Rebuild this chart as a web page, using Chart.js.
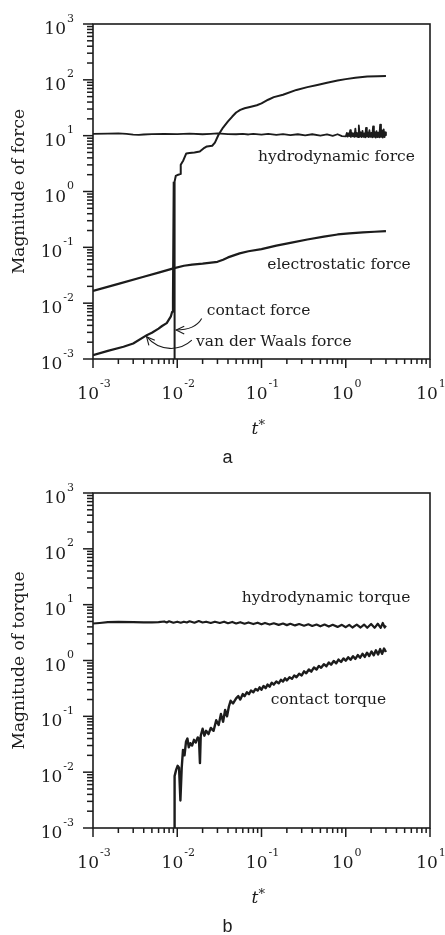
<!DOCTYPE html>
<html>
<head>
<meta charset="utf-8">
<script src="https://cdn.jsdelivr.net/npm/chart.js@4.4.1/dist/chart.umd.min.js"></script>
<style>
  html, body { margin: 0; padding: 0; background: #fff; }
  body { width: 445px; height: 935px; overflow: hidden; }
  canvas { display: block; }
</style>
</head>
<body>
<canvas id="chartForce" width="445" height="469"></canvas>
<canvas id="chartTorque" width="445" height="466"></canvas>
<script>
// axes: log-log, decades from 1e-3 to 1e1 (t*) and 1e-3 to 1e3 (magnitude)
const xTickExponents = [-3, -2, -1, 0, 1];
const yTickExponents = [-3, -2, -1, 0, 1, 2, 3];
const minorSteps = [2, 3, 4, 5, 6, 7, 8, 9];

// ---- panel a : forces, [t*, magnitude]
const hydroForce = [
  [0.001, 10.8], [0.0015, 10.9], [0.002, 11.0], [0.0025, 10.8], [0.003, 10.4], [0.0035, 10.3],
  [0.004, 10.5], [0.005, 10.7], [0.007, 10.8], [0.01, 10.7], [0.014, 10.9], [0.02, 10.6],
  [0.025, 10.8], [0.03, 11.0], [0.04, 10.7], [0.05, 10.6], [0.06, 10.8], [0.07, 10.5],
  [0.08, 10.8], [0.1, 10.4], [0.12, 10.8], [0.15, 10.3], [0.18, 10.7], [0.22, 10.2],
  [0.27, 10.6], [0.33, 10.1], [0.4, 10.6], [0.5, 10.0], [0.6, 10.5], [0.7, 9.9],
  [0.8, 10.6], [0.9, 9.8], [1.0, 9.7], [1.03, 11.2], [1.05, 9.6], [1.08, 11.0], [1.1, 9.8],
  [1.13, 12.6], [1.15, 9.5], [1.18, 11.3], [1.21, 9.7], [1.24, 11.0], [1.27, 9.5], [1.3, 13.4],
  [1.33, 9.6], [1.36, 11.2], [1.4, 9.4], [1.43, 15.2], [1.47, 9.6], [1.5, 11.5], [1.54, 9.4],
  [1.58, 12.2], [1.62, 9.5], [1.66, 11.0], [1.7, 9.3], [1.74, 13.8], [1.78, 9.6], [1.82, 11.4],
  [1.87, 9.4], [1.91, 12.5], [1.96, 9.5], [2.01, 11.2], [2.06, 9.3], [2.11, 14.6], [2.16, 9.5],
  [2.21, 11.6], [2.27, 9.2], [2.32, 12.0], [2.38, 9.4], [2.44, 11.3], [2.5, 9.3], [2.56, 15.8],
  [2.62, 9.5], [2.69, 12.4], [2.75, 9.2], [2.82, 13.0], [2.89, 9.4], [2.95, 11.5], [3.0, 10.2]
];
const electroForce = [
  [0.001, 0.0166], [0.002, 0.0222], [0.004, 0.0297], [0.006, 0.0353], [0.009, 0.0419],
  [0.012, 0.0468], [0.015, 0.049], [0.02, 0.051], [0.03, 0.055], [0.035, 0.06], [0.04, 0.066],
  [0.055, 0.078], [0.07, 0.085], [0.1, 0.093], [0.15, 0.107], [0.22, 0.12],
  [0.35, 0.138], [0.55, 0.155], [0.8, 0.17], [1.1, 0.178], [1.6, 0.186], [2.2, 0.19], [3.0, 0.195]
];
const vdwForce = [
  [0.001, 0.00117], [0.0015, 0.0014], [0.0023, 0.00166], [0.003, 0.0019], [0.0044, 0.0027],
  [0.005, 0.00295], [0.006, 0.0035], [0.0066, 0.0039], [0.0075, 0.0044], [0.0084, 0.0058],
  [0.0087, 0.007], [0.0089, 0.012], [0.0091, 1.5]
];
const contactForce = [
  [0.0093, 0.0001], [0.0093, 1.5], [0.0096, 1.9], [0.0103, 2.0], [0.0108, 2.05], [0.011, 3.0],
  [0.0118, 3.6], [0.0128, 4.8], [0.014, 4.9], [0.016, 5.0], [0.0185, 5.2], [0.0205, 5.9],
  [0.0225, 6.4], [0.026, 6.6], [0.028, 7.5], [0.031, 10.5], [0.035, 14], [0.04, 18],
  [0.045, 22], [0.05, 26], [0.056, 29], [0.063, 31], [0.075, 33], [0.088, 35], [0.1, 38],
  [0.12, 44], [0.14, 49], [0.18, 54], [0.26, 66], [0.35, 74], [0.46, 81], [0.6, 89],
  [0.8, 97], [1.0, 103], [1.3, 109], [1.8, 115], [2.4, 116], [3.0, 117]
];

// ---- panel b : torques
const hydroTorque = [
  [0.001, 4.6], [0.0012, 4.7], [0.0015, 4.85], [0.002, 4.9], [0.003, 4.85], [0.004, 4.8],
  [0.005, 4.8], [0.006, 4.85], [0.007, 5.0], [0.0075, 4.8], [0.008, 5.05], [0.009, 4.75],
  [0.01, 4.95], [0.011, 4.75], [0.012, 4.95], [0.013, 4.8], [0.014, 5.05], [0.016, 4.75],
  [0.018, 5.1], [0.02, 4.8], [0.022, 4.95], [0.025, 4.7], [0.028, 4.95], [0.032, 4.7],
  [0.036, 4.95], [0.04, 4.65], [0.045, 4.9], [0.05, 4.6], [0.056, 4.85], [0.063, 4.55],
  [0.07, 4.8], [0.08, 4.5], [0.09, 4.75], [0.1, 4.45], [0.11, 4.7], [0.125, 4.4],
  [0.14, 4.65], [0.16, 4.35], [0.18, 4.6], [0.2, 4.3], [0.22, 4.55], [0.25, 4.25],
  [0.28, 4.5], [0.32, 4.2], [0.36, 4.45], [0.4, 4.15], [0.45, 4.4], [0.5, 4.1],
  [0.56, 4.4], [0.63, 4.05], [0.7, 4.35], [0.8, 4.0], [0.9, 4.35], [1.0, 3.95],
  [1.1, 4.35], [1.2, 3.9], [1.35, 4.4], [1.5, 3.9], [1.65, 4.4], [1.8, 3.85],
  [2.0, 4.5], [2.2, 3.85], [2.4, 4.55], [2.6, 3.85], [2.75, 4.7], [2.9, 3.9], [3.0, 4.2]
];
const contactTorque = [
  [0.0093, 0.0001], [0.0093, 0.0085], [0.0097, 0.011], [0.0101, 0.013], [0.0105, 0.012],
  [0.0109, 0.0031], [0.0113, 0.012], [0.0117, 0.025], [0.0122, 0.02], [0.0127, 0.035],
  [0.0132, 0.04], [0.0137, 0.028], [0.0143, 0.033], [0.015, 0.03], [0.0158, 0.038],
  [0.0166, 0.034], [0.0175, 0.042], [0.0181, 0.04], [0.0186, 0.0145], [0.019, 0.045],
  [0.02, 0.06], [0.021, 0.045], [0.022, 0.055], [0.0235, 0.048], [0.025, 0.062],
  [0.027, 0.055], [0.029, 0.085], [0.031, 0.07], [0.033, 0.11], [0.035, 0.08],
  [0.037, 0.13], [0.039, 0.1], [0.041, 0.15], [0.043, 0.19], [0.046, 0.17],
  [0.05, 0.21], [0.053, 0.23], [0.056, 0.2], [0.06, 0.25], [0.063, 0.23], [0.067, 0.27],
  [0.071, 0.25], [0.075, 0.29], [0.08, 0.27], [0.085, 0.31], [0.09, 0.29], [0.095, 0.33],
  [0.1, 0.3], [0.106, 0.35], [0.112, 0.32], [0.118, 0.37], [0.125, 0.34], [0.132, 0.4],
  [0.14, 0.37], [0.15, 0.42], [0.16, 0.39], [0.17, 0.45], [0.18, 0.42], [0.19, 0.48],
  [0.2, 0.44], [0.215, 0.5], [0.23, 0.47], [0.245, 0.54], [0.26, 0.5], [0.28, 0.58],
  [0.3, 0.54], [0.32, 0.64], [0.34, 0.59], [0.365, 0.69], [0.39, 0.63], [0.42, 0.75],
  [0.45, 0.69], [0.48, 0.8], [0.51, 0.74], [0.55, 0.86], [0.59, 0.79], [0.63, 0.92],
  [0.67, 0.84], [0.72, 0.98], [0.77, 0.89], [0.82, 1.04], [0.88, 0.94], [0.94, 1.09],
  [1.0, 0.99], [1.07, 1.14], [1.14, 1.03], [1.22, 1.19], [1.3, 1.07], [1.39, 1.25],
  [1.48, 1.12], [1.58, 1.32], [1.68, 1.16], [1.79, 1.38], [1.9, 1.2], [2.02, 1.45],
  [2.15, 1.24], [2.28, 1.52], [2.42, 1.28], [2.56, 1.6], [2.7, 1.32], [2.85, 1.64], [3.0, 1.42]
];

// text labels placed at data coordinates [t*, magnitude] (left edge, vertical middle)
const forceLabels = [
  { text: 'hydrodynamic force', at: [0.091, 4.1] },
  { text: 'electrostatic force', at: [0.117, 0.048] },
  { text: 'contact force', at: [0.0224, 0.0073] },
  { text: 'van der Waals force', at: [0.0167, 0.00202] }
];
const torqueLabels = [
  { text: 'hydrodynamic torque', at: [0.0583, 13.3] },
  { text: 'contact torque', at: [0.129, 0.195] }
];
// leader arrows (cubic curves in data coordinates, arrow head at the last point)
const forceArrows = [
  [[0.0195, 0.0053], [0.0172, 0.0038], [0.0140, 0.0033], [0.0097, 0.0033]],
  [[0.0149, 0.00217], [0.0108, 0.00138], [0.00625, 0.00132], [0.00432, 0.00251]]
];

const SERIF = '"DejaVu Serif", serif';
const INK = '#1c1c1c';

function toXY(pairs) { return pairs.map(([x, y]) => ({ x, y })); }

function drawPower(ctx, exp, x, baseline, align) {
  ctx.font = '17px ' + SERIF;
  const wb = ctx.measureText('10').width;
  ctx.font = '11px ' + SERIF;
  const sup = String(exp);
  const ws = ctx.measureText(sup).width;
  const total = wb + ws + 1;
  const left = align === 'right' ? x - total : x - total / 2;
  ctx.textAlign = 'left';
  ctx.textBaseline = 'alphabetic';
  ctx.font = '17px ' + SERIF;
  ctx.fillText('10', left, baseline);
  ctx.font = '11px ' + SERIF;
  ctx.fillText(sup, left + wb + 1, baseline - 12.5);
}

function makeDecor(yTitle, caption, labels, arrows) {
  return {
    id: 'decor',
    afterDraw(chart) {
      const { ctx, chartArea: a, scales: { x, y } } = chart;
      ctx.save();
      ctx.strokeStyle = INK;
      ctx.fillStyle = INK;
      ctx.lineCap = 'butt';

      // frame
      ctx.lineWidth = 1.6;
      ctx.strokeRect(a.left, a.top, a.right - a.left, a.bottom - a.top);

      // x ticks, outside (down)
      ctx.lineWidth = 1.5;
      xTickExponents.forEach((e, i) => {
        const v = Math.pow(10, e);
        const px = x.getPixelForValue(v);
        ctx.beginPath(); ctx.moveTo(px, a.bottom); ctx.lineTo(px, a.bottom + 9); ctx.stroke();
        drawPower(ctx, e, px + 1, a.bottom + 40, 'center');
        if (i < xTickExponents.length - 1) {
          minorSteps.forEach(m => {
            const mx = x.getPixelForValue(m * v);
            ctx.beginPath(); ctx.moveTo(mx, a.bottom); ctx.lineTo(mx, a.bottom + 5); ctx.stroke();
          });
        }
      });

      // y ticks, outside (left)
      yTickExponents.forEach((e, i) => {
        const v = Math.pow(10, e);
        const py = y.getPixelForValue(v);
        ctx.beginPath(); ctx.moveTo(a.left, py); ctx.lineTo(a.left - 10, py); ctx.stroke();
        drawPower(ctx, e, a.left - 19, py + 10, 'right');
        if (i < yTickExponents.length - 1) {
          minorSteps.forEach(m => {
            const my = y.getPixelForValue(m * v);
            ctx.beginPath(); ctx.moveTo(a.left, my); ctx.lineTo(a.left - 6, my); ctx.stroke();
          });
        }
      });

      // y title
      ctx.save();
      ctx.translate(20, (a.top + a.bottom) / 2);
      ctx.rotate(-Math.PI / 2);
      ctx.font = '17px ' + SERIF;
      ctx.textAlign = 'center';
      ctx.textBaseline = 'middle';
      ctx.fillText(yTitle, 0, 0);
      ctx.restore();

      // x title t*
      const cx = (a.left + a.right) / 2 - 3;
      ctx.font = 'italic 17px ' + SERIF;
      const wt = ctx.measureText('t').width;
      ctx.textAlign = 'left';
      ctx.textBaseline = 'alphabetic';
      ctx.fillText('t', cx - (wt + 7) / 2, a.bottom + 75);
      ctx.font = '13px ' + SERIF;
      ctx.fillText('*', cx - (wt + 7) / 2 + wt, a.bottom + 70);

      // panel caption
      ctx.font = '18px "Liberation Sans", Arial, sans-serif';
      ctx.textAlign = 'center';
      ctx.fillText(caption, chart.width / 2 + 5, a.bottom + 104);

      // in-plot labels
      ctx.font = '15.5px ' + SERIF;
      ctx.textAlign = 'left';
      ctx.textBaseline = 'middle';
      labels.forEach(l => {
        ctx.fillText(l.text, x.getPixelForValue(l.at[0]), y.getPixelForValue(l.at[1]));
      });

      // leader arrows
      ctx.lineWidth = 1.1;
      arrows.forEach(pts => {
        const p = pts.map(([t, v]) => [x.getPixelForValue(t), y.getPixelForValue(v)]);
        ctx.beginPath();
        ctx.moveTo(p[0][0], p[0][1]);
        ctx.bezierCurveTo(p[1][0], p[1][1], p[2][0], p[2][1], p[3][0], p[3][1]);
        ctx.stroke();
        const ang = Math.atan2(p[3][1] - p[2][1], p[3][0] - p[2][0]);
        const len = 9;
        ctx.beginPath();
        ctx.moveTo(p[3][0] - len * Math.cos(ang - 0.45), p[3][1] - len * Math.sin(ang - 0.45));
        ctx.lineTo(p[3][0], p[3][1]);
        ctx.lineTo(p[3][0] - len * Math.cos(ang + 0.45), p[3][1] - len * Math.sin(ang + 0.45));
        ctx.stroke();
      });

      ctx.restore();
    }
  };
}

function makeChart(canvasId, datasets, yTitle, caption, labels, arrows, bottomPad) {
  return new Chart(document.getElementById(canvasId), {
    type: 'scatter',
    data: {
      datasets: datasets.map(d => ({
        data: toXY(d.data),
        showLine: true,
        borderColor: INK,
        borderWidth: d.width,
        borderJoinStyle: 'round',
        pointRadius: 0,
        tension: 0
      }))
    },
    options: {
      responsive: false,
      animation: false,
      devicePixelRatio: 1,
      layout: { padding: { left: 93, right: 15, top: 24, bottom: bottomPad } },
      plugins: { legend: { display: false }, tooltip: { enabled: false } },
      scales: {
        x: { type: 'logarithmic', min: 1e-3, max: 10, display: false },
        y: { type: 'logarithmic', min: 1e-3, max: 1e3, display: false }
      }
    },
    plugins: [makeDecor(yTitle, caption, labels, arrows)]
  });
}

makeChart('chartForce', [
  { data: hydroForce, width: 1.8 },
  { data: electroForce, width: 2.2 },
  { data: vdwForce, width: 2.2 },
  { data: contactForce, width: 2 }
], 'Magnitude of force', 'a', forceLabels, forceArrows, 110);

makeChart('chartTorque', [
  { data: hydroTorque, width: 2.2 },
  { data: contactTorque, width: 2.4 }
], 'Magnitude of torque', 'b', torqueLabels, [], 107);
</script>
</body>
</html>
